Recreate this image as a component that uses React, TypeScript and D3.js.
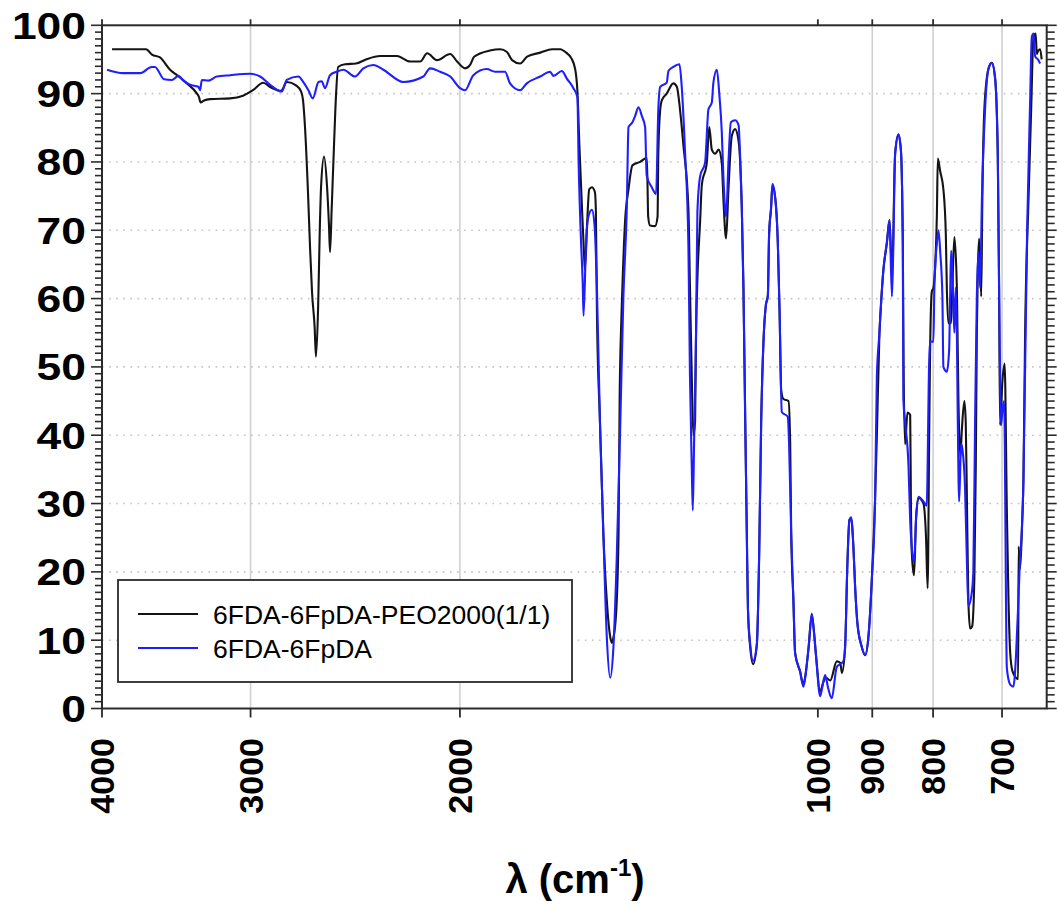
import React from 'react';
import * as d3 from 'd3';

// 6FDA-6FpDA-PEO2000(1/1) : wavenumber (cm-1) and transmittance (%)
const copolymerWavenumber = [
  3923, 3673, 3631, 3575, 3506, 3459, 3393, 3328, 3315, 3305, 3283, 3245, 3121, 3044, 2986, 2928, 2883, 2828, 2796, 2747,
  2720, 2710, 2700, 2684, 2673, 2663, 2650, 2643, 2632, 2624, 2617, 2602, 2587, 2577, 2572, 2564, 2552, 2542, 2532, 2498,
  2446, 2399, 2334, 2259, 2202, 2160, 2131, 2091, 2038, 2011, 1980, 1961, 1946, 1887, 1850, 1826, 1808, 1780, 1756, 1712,
  1673, 1647, 1628, 1612, 1600, 1593, 1587, 1579, 1573, 1570, 1563, 1557, 1549, 1540, 1537, 1534, 1525, 1515, 1505, 1495,
  1490, 1486, 1478, 1471, 1468, 1463, 1461, 1452.5, 1443, 1432, 1411, 1393, 1391, 1389, 1384, 1370.6, 1364, 1362, 1357, 1352.9,
  1340, 1323, 1314, 1306, 1297.5, 1285, 1281, 1276.6, 1272.6, 1268.4, 1266, 1262.7, 1256, 1252, 1240, 1234, 1228, 1220, 1212, 1204.5,
  1200.8, 1194.5, 1189, 1181.4, 1173.8, 1166, 1162, 1158.7, 1155, 1151, 1147.5, 1145, 1140, 1133.6, 1125.4, 1120.4, 1116, 1111, 1106, 1101.7,
  1099, 1094.8, 1092, 1086, 1080.6, 1077, 1073.6, 1069, 1058.5, 1055, 1053, 1048.5, 1045, 1035, 1028.4, 1025, 1018, 1011.8, 1007.3, 1003.4,
  995.5, 989.3, 984, 976.4, 964, 957.6, 954.4, 948.6, 944.4, 940.7, 937.6, 933.5, 930.5, 926.3, 918.4, 912.6, 906.7, 900.8, 895, 892,
  887.5, 885, 880.8, 875, 870.4, 867.6, 866, 861, 855.5, 851.5, 848.3, 847, 844.6, 840.7, 836.3, 835, 833.2, 830, 826.7, 823,
  815.1, 811, 808.5, 806, 804.7, 802, 799.5, 794.2, 792.7, 789, 784.2, 780.5, 779, 776.6, 772.6, 770.7, 767.7, 764, 761.7, 759,
  756.7, 753, 751, 749.5, 747.2, 744.7, 741.8, 738.5, 736.5, 735, 733.6, 731.7, 728.8, 727.2, 724.4, 718.7, 714, 709.5, 705.8, 704,
  702.7, 699.5, 696.5, 693.5, 691.3, 689, 686.1, 681.2, 678.5, 677.9, 675.9, 673.3, 671.6, 669.4, 665, 661.6, 658.7, 655.9, 654.4, 652.7,
  650.2, 648.3,
];
const copolymerT = [
  96.5, 96.5, 95.7, 95.3, 93.5, 92.7, 91.5, 90.0, 89.5, 88.7, 89.0, 89.2, 89.3, 89.7, 90.5, 91.6, 90.9, 90.4, 91.7, 91.2,
  90.3, 89.0, 85.2, 75.4, 67.1, 60.8, 55.9, 51.5, 58.8, 69.6, 76.4, 80.8, 76.4, 70.5, 66.8, 73, 82.7, 90, 93.9, 94.3,
  94.4, 95.0, 95.5, 95.5, 94.7, 94.7, 95.9, 94.9, 95.8, 94.7, 93.7, 94.2, 95.4, 96.3, 96.5, 96.1, 94.9, 94.4, 95.4, 96.0,
  96.5, 96.5, 96.0, 95.2, 93.6, 90.3, 82.5, 73.3, 66.8, 64.2, 71.4, 76, 76.3, 75.6, 72.7, 58.3, 42, 25.7, 15.9, 10.5,
  9.6, 10.3, 13.9, 25.7, 45, 57, 60.3, 71.4, 76, 79.5, 80.0, 80.6, 77.3, 72, 70.7, 70.6, 72, 81.3, 87.7, 89,
  90, 91.5, 91, 87.7, 82.5, 73.3, 61.6, 48.6, 40, 42, 55, 62.9, 71.4, 76.6, 79.9, 85.1, 81.8, 81.2, 81.8, 79.9,
  74.7, 68.8, 76, 83.8, 84.8, 83.1, 79.5, 73.3, 61.6, 42, 25.7, 14.6, 9.0, 6.5, 9.4, 22.4, 42, 53.8, 59, 60.5,
  69.4, 73.3, 76.5, 74.7, 68.1, 58.3, 46.6, 45.3, 45, 38.7, 25.7, 15.9, 8.1, 5.4, 3.5, 4.5, 9.0, 13.7, 11, 7.6,
  2.5, 3.9, 4.5, 4.1, 6.9, 6.7, 5.2, 9.0, 21.2, 27.6, 27.8, 23.7, 18, 12.5, 9.0, 7.8, 10.5, 18.8, 31, 40,
  55.1, 59, 64.2, 68.1, 71.5, 66, 64, 81.2, 84, 81.8, 68.1, 50, 38.7, 43.3, 43, 28.9, 22, 19.5, 28, 30.8,
  30, 25, 17.6, 40.7, 51.8, 61, 61.6, 72, 80.5, 78.6, 76, 69.4, 61.6, 56.4, 56.4, 61.6, 69, 61.6, 45.3, 36.8,
  40.7, 45, 42, 32.3, 15.9, 11.7, 12, 19.3, 35.5, 55, 64.2, 68.8, 60.3, 74.6, 87.7, 93.6, 94.5, 92.3, 81.2, 61.6,
  41.5, 47.9, 50.5, 29, 15.9, 8.1, 5.5, 4.5, 4.3, 23.7, 20.5, 27, 33.4, 55, 74.6, 87.7, 98.2, 98.8, 95.8, 96.3,
  96.5, 95,
];

// 6FDA-6FpDA : wavenumber (cm-1) and transmittance (%)
const homopolymerWavenumber = [
  3961, 3841, 3716, 3632, 3610, 3547, 3494, 3450, 3417, 3373, 3319, 3308, 3297, 3256, 3203, 3121, 3003, 2945, 2889, 2824,
  2797, 2735, 2708.6, 2682, 2659.7, 2630, 2614, 2597, 2572, 2539, 2506.6, 2450.7, 2411.4, 2365, 2319.8, 2231.7, 2146.9, 2119, 2078, 2038,
  1999.4, 1980, 1948.7, 1898.8, 1868.5, 1832.7, 1815, 1780, 1757.2, 1712, 1679.5, 1669, 1641.8, 1626, 1605.5, 1593, 1589.3, 1582.7, 1576.7, 1574.2,
  1566.6, 1559.5, 1549, 1541, 1534, 1525, 1515, 1505, 1495, 1486, 1476, 1466, 1457.3, 1447.7, 1443, 1432, 1424.7, 1415.4, 1406, 1397.3,
  1393, 1379.4, 1367.9, 1362, 1357, 1340, 1335.6, 1323, 1307.4, 1301.6, 1293.2, 1285, 1281, 1276.6, 1274, 1270.9, 1266, 1262.7, 1256, 1244,
  1236, 1228, 1224.2, 1216, 1210, 1204.5, 1200.8, 1194.5, 1189, 1183.5, 1173.8, 1166, 1162, 1158.7, 1155, 1151, 1147.5, 1145, 1140, 1133.6,
  1125.4, 1120.4, 1116, 1111, 1106, 1101.7, 1099, 1094.8, 1092, 1086, 1080.6, 1077, 1072.3, 1060, 1057.3, 1053, 1048.5, 1045, 1035, 1028.4,
  1025, 1018, 1011.8, 1007.3, 1003.4, 995.5, 991.8, 986, 980.3, 973.4, 964, 957.6, 951.8, 948.6, 944.4, 940.7, 937.6, 933.5, 930.5, 926.3,
  918.4, 912.6, 906.7, 900.8, 895, 892, 887.5, 885, 880.8, 875, 870.4, 866.4, 864.4, 861, 855.5, 851.5, 848.3, 847.4, 844.6, 839,
  836.3, 833.2, 830, 826.7, 823, 815.1, 810, 806, 804.7, 799.5, 798, 794.2, 791.7, 789, 785.7, 784.2, 779, 775.5, 774, 772.6,
  769, 767.7, 765.6, 764, 762.6, 760.6, 757.8, 755.9, 752, 749.5, 747.2, 742.2, 740, 737.5, 735, 732.7, 730.3, 727.8, 723.4, 718.7,
  714, 709.5, 705.8, 704, 701.3, 699.2, 697.2, 693.5, 689, 684.8, 681.2, 678.5, 676.8, 671.6, 666.8, 662.9, 660.8, 658.5, 656.6, 652.3,
  650.2,
];
const homopolymerT = [
  93.5, 93.0, 93.0, 93.9, 93.9, 92.1, 92.0, 92.6, 91.9, 91.3, 91.0, 90.5, 92, 91.9, 92.5, 92.7, 92.9, 92.5, 91.3, 90.3,
  92, 92.5, 91.7, 90.5, 89.3, 91.7, 91.8, 90.8, 92.7, 93.2, 93.5, 92.5, 93.7, 94.2, 93.5, 91.7, 92.5, 93.7, 93.2, 92.5,
  90.8, 90.5, 92.7, 93.6, 93.2, 93.2, 91.5, 90.5, 91.5, 92.5, 93.2, 92.6, 93.3, 92.2, 90.8, 89.5, 80, 69.4, 62.2, 57.5,
  68.1, 72, 73, 70.7, 61.6, 42, 25.7, 10.6, 4.5, 8.7, 22.4, 42, 60.3, 73.3, 85.1, 85.8, 86.7, 88, 86.7, 85.1,
  78, 76.3, 75.3, 87.7, 91, 91.6, 93.3, 93.9, 94.3, 91, 81.3, 68.1, 48.6, 35.5, 29, 38.8, 55, 72.7, 77.9, 79.9,
  87.7, 88.7, 91.6, 93.5, 89.7, 84.4, 77.9, 72, 79.9, 85.8, 86.1, 85.4, 80, 73.3, 61.6, 42, 25.7, 14.6, 9.4, 7.0,
  9.4, 22.4, 42, 53.8, 59, 60.3, 69.4, 73.3, 76.8, 74.7, 68.1, 58.3, 43.4, 42.7, 38.7, 25.7, 15.9, 8.1, 5.4, 3.2,
  4.5, 9.0, 13.9, 11, 7.6, 1.8, 3, 4.9, 3, 1.5, 6.1, 6.5, 6.9, 9.0, 21.2, 27.6, 28, 23.7, 18, 12.5,
  9.0, 7.8, 10.5, 18.8, 31, 48.6, 55.1, 59, 64.2, 68.1, 71.5, 60.3, 66, 81.2, 84, 81.8, 68.1, 45.3, 42, 35.5,
  27.6, 23, 21.5, 28, 31, 30.3, 29.7, 51, 53.7, 53.7, 61.6, 68.1, 70, 66.8, 60.3, 50, 49.3, 52.5, 60.3, 67,
  59, 55, 61.6, 55, 42, 30.3, 38.7, 38, 32.3, 22.4, 15, 17, 20, 42, 60.3, 66.8, 61.6, 74.7, 87.7, 93.6,
  94.5, 92.3, 81.2, 61.6, 41.5, 44, 45, 5.9, 3.5, 3.2, 8, 15, 19.8, 33.4, 70, 89, 98.3, 98.8, 95.5, 94.9,
  94.4,
];

const xTickValues = [4000, 3000, 2000, 1000, 900, 800, 700];
const xGridValues = [3000, 2000, 900, 800, 700];
const yTickValues = [0, 10, 20, 30, 40, 50, 60, 70, 80, 90, 100];
const seriesNames = ['6FDA-6FpDA-PEO2000(1/1)', '6FDA-6FpDA'];
const seriesColors = ['#141414', '#1e1eff'];

const W = 1057;
const H = 907;
const LEFT = 102;
const RIGHT = 1046.7;
const TOP = 25.3;
const BOTTOM = 708.5;
const FONT = "'Liberation Sans', Arial, Helvetica, sans-serif";

export default function App() {
  const x = d3.scaleLog().domain([4000, 642]).range([LEFT, RIGHT]);
  const y = d3.scaleLinear().domain([0, 100]).range([BOTTOM, TOP]);
  const line = d3
    .line<[number, number]>()
    .x((d) => x(d[0]))
    .y((d) => y(d[1]))
    .curve(d3.curveMonotoneX);

  const series = [
    copolymerWavenumber.map((w, i) => [w, copolymerT[i]] as [number, number]),
    homopolymerWavenumber.map((w, i) => [w, homopolymerT[i]] as [number, number]),
  ];
  const minorY = d3.range(0, 101, 1);

  return (
    <svg
      width={W}
      height={H}
      viewBox={`0 0 ${W} ${H}`}
      style={{ position: 'absolute', left: 0, top: 0, display: 'block' }}
      fontFamily={FONT}
    >
      <rect x={0} y={0} width={W} height={H} fill="#ffffff" />
      {/* horizontal dotted grid */}
      {yTickValues
        .filter((v) => v > 0 && v < 100)
        .map((v) => (
          <line
            key={'hg' + v}
            x1={LEFT}
            x2={RIGHT}
            y1={y(v)}
            y2={y(v)}
            stroke="#c4c4c4"
            strokeWidth={1.6}
            strokeDasharray="1.6 5.5"
          />
        ))}
      {/* vertical grid */}
      {xGridValues.map((v) => (
        <line key={'vg' + v} x1={x(v)} x2={x(v)} y1={TOP} y2={BOTTOM} stroke="#d0d0d0" strokeWidth={1.6} />
      ))}

      {/* spectra */}
      {series.map((pts, i) => (
        <path
          key={'s' + i}
          d={line(pts) || ''}
          fill="none"
          stroke={seriesColors[i]}
          strokeWidth={2.1}
          strokeLinejoin="round"
        />
      ))}

      {/* frame */}
      <rect x={LEFT} y={TOP} width={RIGHT - LEFT} height={BOTTOM - TOP} fill="none" stroke="#2a2a2a" strokeWidth={2} />

      {/* y ticks left & right */}
      {minorY.map((v) => {
        const major = v % 10 === 0;
        const len = major ? 11 : 7;
        return (
          <g key={'yt' + v}>
            <line x1={LEFT - len} x2={LEFT} y1={y(v)} y2={y(v)} stroke="#2a2a2a" strokeWidth={1.6} />
            <line x1={RIGHT} x2={RIGHT + (major ? 10 : 8)} y1={y(v)} y2={y(v)} stroke="#2a2a2a" strokeWidth={1.6} />
          </g>
        );
      })}
      {/* x ticks bottom & top */}
      {xTickValues.map((v) => (
        <g key={'xt' + v}>
          <line x1={x(v)} x2={x(v)} y1={BOTTOM} y2={BOTTOM + 9} stroke="#2a2a2a" strokeWidth={1.8} />
          <line x1={x(v)} x2={x(v)} y1={TOP} y2={TOP - 6} stroke="#2a2a2a" strokeWidth={1.8} />
        </g>
      ))}

      {/* y tick labels */}
      {yTickValues.map((v) => (
        <text
          key={'yl' + v}
          transform={`translate(86,${y(v)}) scale(1.2,1)`}
          dy="0.36em"
          textAnchor="end"
          fontSize={37}
          fontWeight="bold"
          fill="#000"
        >
          {v}
        </text>
      ))}
      {/* x tick labels (rotated) */}
      {xTickValues.map((v) => (
        <text
          key={'xl' + v}
          transform={`translate(${x(v) + 12},738) rotate(-90)`}
          textAnchor="end"
          fontSize={34}
          fontWeight="bold"
          fill="#000"
        >
          {v}
        </text>
      ))}

      {/* x axis title */}
      <text x={575} y={893} textAnchor="middle" fontSize={40} fontWeight="bold" fill="#000">
        λ (cm
        <tspan fontSize={24} dy={-17}>
          -1
        </tspan>
        <tspan fontSize={40} dy={17}>
          )
        </tspan>
      </text>

      {/* legend */}
      <rect x={118} y={580} width={454} height={102} fill="#ffffff" stroke="#2a2a2a" strokeWidth={1.8} />
      {seriesNames.map((name, i) => {
        const ly = 614 + i * 34;
        return (
          <g key={'lg' + i}>
            <line x1={138} x2={198} y1={ly} y2={ly} stroke={seriesColors[i]} strokeWidth={2} />
            <text x={213} y={ly} dy="0.36em" fontSize={26.5} fill="#000">
              {name}
            </text>
          </g>
        );
      })}
    </svg>
  );
}
